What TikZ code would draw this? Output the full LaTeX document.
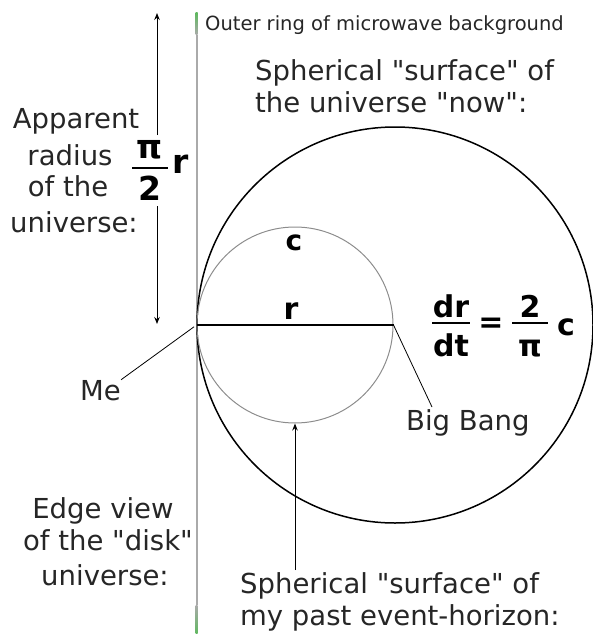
\documentclass[tikz,border=0pt]{standalone}
\usepackage{fontspec}
\setmainfont{DejaVu Sans}
\usetikzlibrary{arrows.meta}
\newcommand\dq{\XeTeXglyph\XeTeXcharglyph"22\relax}
\definecolor{txt}{HTML}{262626}
\definecolor{ringgray}{HTML}{AAAAAA}
\definecolor{ringgreen}{HTML}{5FB85F}
\definecolor{thingray}{HTML}{8C8C8C}
\begin{document}
\begin{tikzpicture}[x=1pt,y=-1pt,
  lbl/.style={inner sep=0pt, text=txt, font=\fontsize{27.5}{30}\selectfont},
  smalltxt/.style={inner sep=0pt, text=txt, font=\fontsize{19.5}{22}\selectfont},
  boldlbl/.style={inner sep=0pt, text=black, font=\fontsize{30}{32}\selectfont\bfseries},
  pointer/.style={draw=black, line width=0.8pt},
  fracbar/.style={draw=black, line width=1.3pt},
  arr/.style={draw=black, line width=1pt, -{Stealth[length=7pt,width=5.5pt]}},
]
\useasboundingbox (0,0) rectangle (592,634);
% edge view of the disk (vertical ring line)
\fill[ringgray] (195.6,35) rectangle (197.6,605);
\shade[top color=ringgreen, bottom color=ringgray] (195.6,13) rectangle (197.6,35);
\shade[top color=ringgray, bottom color=ringgreen] (195.6,605) rectangle (197.6,634);
% circles
\node (outer) [circle, draw=black, line width=1.5pt, minimum size=396pt, inner sep=0pt] at (395,325) {};
\node (inner) [circle, draw=thingray, line width=1pt, minimum size=196pt, inner sep=0pt] at (295,325) {};
\draw[black, line width=1.3pt] (inner.west) -- (inner.east);
\node[boldlbl, anchor=base] (rlab) at (291,319) {r};
\node[boldlbl, anchor=base, font=\fontsize{28}{30}\selectfont\bfseries] (clab) at (294,250) {c};
% top label
\node[smalltxt, anchor=base west] (outerring) at (205,31) {Outer ring of microwave background};
\node[lbl, anchor=base west] (now1) at (255,81) {Spherical \dq surface\dq{} of};
\node[lbl, anchor=base west] (now2) at (255,112) {the universe \dq now\dq:};
% apparent radius
\node[lbl, anchor=base] (ap1) at (76,128) {Apparent};
\node[lbl, anchor=base] (ap2) at (70,165) {radius};
\node[lbl, anchor=base] (ap3) at (68,196) {of the};
\node[lbl, anchor=base] (ap4) at (74,232) {universe:};
\node[boldlbl, anchor=base, font=\fontsize{33}{35}\selectfont\bfseries] (fpi) at (150,158) {π};
\node[boldlbl, anchor=base, font=\fontsize{33}{35}\selectfont\bfseries] (ftwo) at (150,200) {2};
\draw[fracbar] (132,168) -- (168,168);
\node[boldlbl, anchor=base, font=\fontsize{33}{35}\selectfont\bfseries] (fr) at (181,173) {r};
\coordinate (atop) at (157,13);
\coordinate (agapT) at (157,135);
\coordinate (agapB) at (157,206);
\coordinate (abot) at (157,324);
\draw[arr] (agapT) -- (atop);
\draw[arr] (agapB) -- (abot);
% Me
\node[lbl, anchor=base west] (me) at (80,400) {Me};
\draw[pointer, shorten <=3pt] (inner.west) -- (me.north east);
% Big Bang
\node[lbl, anchor=base west] (bb) at (406,430) {Big Bang};
\coordinate (bbend) at (432,407);
\draw[pointer] (inner.east) -- (bbend);
% dr/dt = 2/pi c
\node[boldlbl, anchor=base] (dr) at (451,317) {dr};
\node[boldlbl, anchor=base] (dt) at (451,356) {dt};
\draw[fracbar] (432,323) -- (470,323);
\node[boldlbl] (eq) at (491,325) {=};
\node[boldlbl, anchor=base] (two) at (530,317) {2};
\node[boldlbl, anchor=base] (pi) at (530,356) {π};
\draw[fracbar] (512,323) -- (548,323);
\node[boldlbl, anchor=base] (cc) at (566,335) {c};
% edge view
\node[lbl, anchor=base] (ev1) at (103,518) {Edge view};
\node[lbl, anchor=base] (ev2) at (108,550) {of the \dq disk\dq};
\node[lbl, anchor=base] (ev3) at (105,585) {universe:};
% past event horizon
\node[lbl, anchor=base west] (past1) at (240,593) {Spherical \dq surface\dq{} of};
\node[lbl, anchor=base west] (past2) at (240,625) {my past event-horizon:};
\coordinate (pastarrow) at (295,570);
\draw[arr] (pastarrow) -- (inner.south);
\end{tikzpicture}
\end{document}
